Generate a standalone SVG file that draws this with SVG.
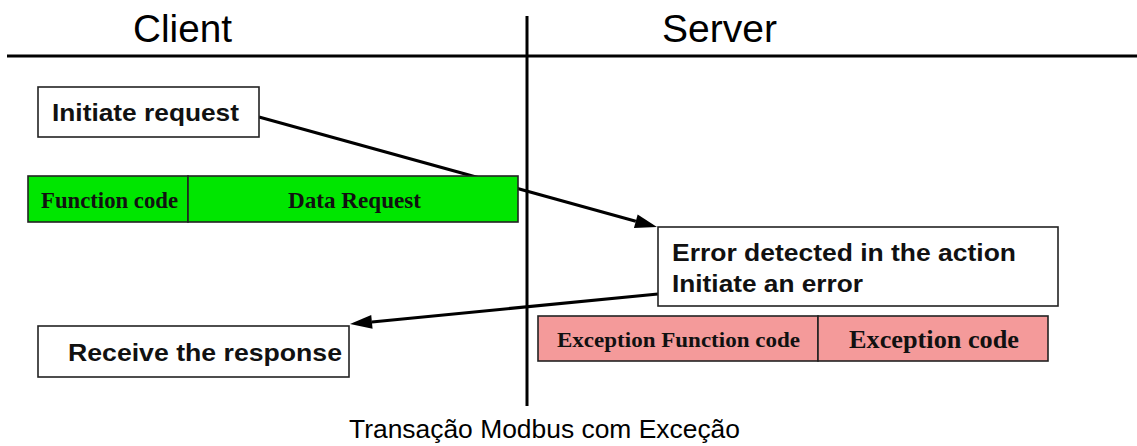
<svg xmlns="http://www.w3.org/2000/svg" width="1137" height="446" viewBox="0 0 1137 446">
  <style>
    .rule { stroke: #000; stroke-width: 3; fill: none; }
    .lane { font-family: "Liberation Sans", Arial, sans-serif; font-size: 38px; fill: #000; }
    .box { fill: #fff; stroke: #222; stroke-width: 1.6; }
    .label { font-family: "Liberation Sans", Arial, sans-serif; font-size: 24px; font-weight: bold; fill: #111; }
    .field { stroke: #222; stroke-width: 1.6; }
    .req { fill: #00e600; }
    .exc { fill: #f49a9a; }
    .ftext { font-family: "Liberation Serif", "Times New Roman", serif; font-weight: bold; fill: #111; }
    .msg { stroke: #000; stroke-width: 3; fill: none; marker-end: url(#head); }
    .caption { font-family: "Liberation Sans", Arial, sans-serif; font-size: 26px; fill: #000; }
  </style>
  <defs>
    <marker id="head" markerUnits="userSpaceOnUse" markerWidth="22" markerHeight="14" refX="0" refY="7" orient="auto" overflow="visible">
      <path d="M0,0 L22,7 L0,14 z" fill="#000"/>
    </marker>
  </defs>

  <rect width="1137" height="446" fill="#fff"/>

  <!-- swimlane headers and divider -->
  <g id="lanes">
    <line class="rule" x1="7" y1="56" x2="1137" y2="56"/>
    <line class="rule" x1="527" y1="16" x2="527" y2="406"/>
    <text class="lane" x="133" y="42" textLength="99" lengthAdjust="spacingAndGlyphs">Client</text>
    <text class="lane" x="662" y="42" textLength="115" lengthAdjust="spacingAndGlyphs">Server</text>
  </g>

  <!-- message connectors (drawn beneath the frame bars) -->
  <g id="connectors">
    <path class="msg" d="M259,117 L635.8,221.2"/>
    <path class="msg" d="M658,294 L371.9,321.9"/>
  </g>

  <g id="initiate-request">
    <rect class="box" x="38" y="87" width="221" height="50"/>
    <text class="label" x="52" y="121" textLength="187" lengthAdjust="spacingAndGlyphs">Initiate request</text>
  </g>

  <g id="request-frame">
    <rect class="field req" x="28" y="176" width="160" height="46"/>
    <rect class="field req" x="188" y="176" width="330" height="46"/>
    <text class="ftext" x="41" y="208" font-size="23" textLength="137" lengthAdjust="spacingAndGlyphs">Function code</text>
    <text class="ftext" x="288" y="208" font-size="23" textLength="133" lengthAdjust="spacingAndGlyphs">Data Request</text>
  </g>

  <g id="error-detected">
    <rect class="box" x="658" y="227" width="400" height="79"/>
    <text class="label" x="672" y="261" textLength="344" lengthAdjust="spacingAndGlyphs">Error detected in the action</text>
    <text class="label" x="672" y="292" textLength="191" lengthAdjust="spacingAndGlyphs">Initiate an error</text>
  </g>

  <g id="exception-frame">
    <rect class="field exc" x="538" y="316" width="280" height="45"/>
    <rect class="field exc" x="818" y="316" width="230" height="45"/>
    <text class="ftext" x="557" y="347" font-size="21" textLength="243" lengthAdjust="spacingAndGlyphs">Exception Function code</text>
    <text class="ftext" x="849" y="348" font-size="25" textLength="170" lengthAdjust="spacingAndGlyphs">Exception code</text>
  </g>

  <g id="receive-response">
    <rect class="box" x="38" y="326" width="311" height="51"/>
    <text class="label" x="68" y="361" textLength="274" lengthAdjust="spacingAndGlyphs">Receive the response</text>
  </g>

  <text class="caption" x="349" y="438" textLength="391" lengthAdjust="spacingAndGlyphs">Transação Modbus com Exceção</text>
</svg>
